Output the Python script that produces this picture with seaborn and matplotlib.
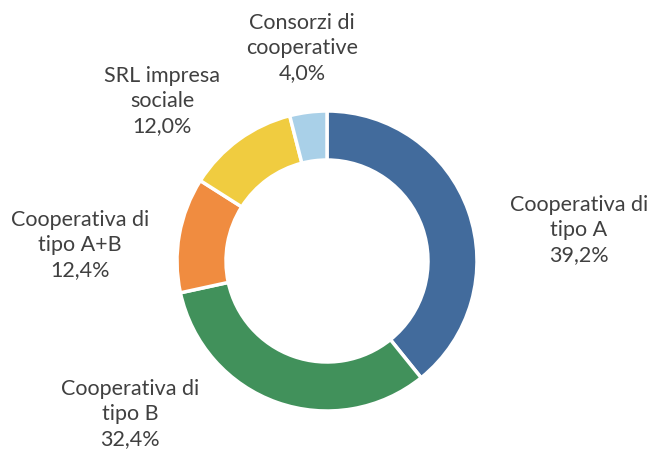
import matplotlib
matplotlib.use("Agg")
import matplotlib.pyplot as plt
import seaborn as sns

categories = ["Cooperativa di\ntipo A", "Cooperativa di\ntipo B", "Cooperativa di\ntipo A+B",
              "SRL impresa\nsociale", "Consorzi di\ncooperative"]
values = [39.2, 32.4, 12.4, 12.0, 4.0]
pct_labels = ["39,2%", "32,4%", "12,4%", "12,0%", "4,0%"]
colors = ["#426B9C", "#41915B", "#F08C40", "#F0CC40", "#A9D0E8"]
label_pos = [(579, 230), (130, 414), (80, 245), (162, 101), (302, 48)]

sns.set_style("white")
plt.rcParams['font.family'] = ['Lato', 'DejaVu Sans']

fig = plt.figure(figsize=(6.54, 4.52), dpi=100)
ax = fig.add_axes([0, 0, 1, 1])
cx, cy = 327, 262
ax.pie(values, colors=colors, startangle=90, counterclock=False, radius=150,
       center=(0, 0), wedgeprops=dict(width=49, edgecolor="white", linewidth=2.5),
       frame=False)
for cat, pl, (px, py) in zip(categories, pct_labels, label_pos):
    ax.text(px - cx, cy - py, cat + "\n" + pl, ha="center", va="center",
            fontsize=15.5, color="#404040", linespacing=1.32)
ax.set_xlim(-cx, 654 - cx)
ax.set_ylim(-(452 - cy), cy)
ax.set_aspect("equal")
ax.axis("off")
fig.savefig("out.png", dpi=100)
